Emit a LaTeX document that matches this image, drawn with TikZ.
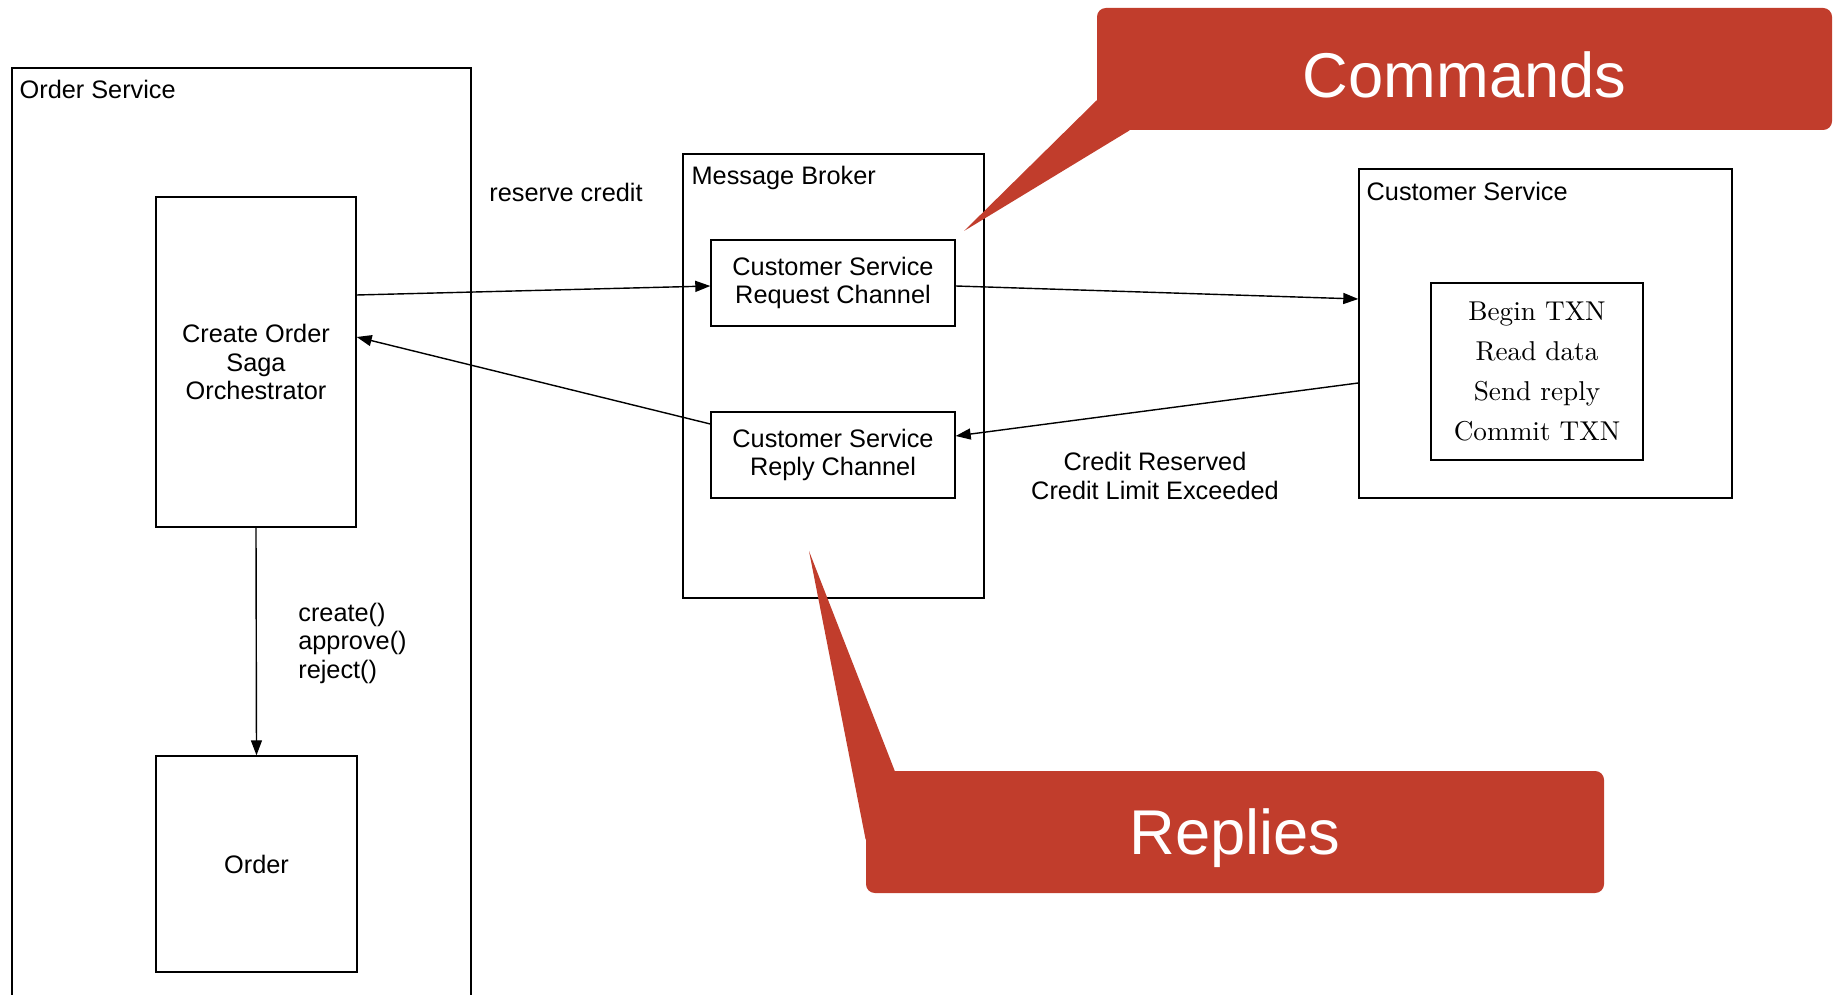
\documentclass[tikz,border=0pt]{standalone}
\usepackage{fontspec}
\setsansfont{Liberation Sans}
\newfontfamily\txnfont{lmroman10-regular.otf}
\usetikzlibrary{arrows.meta,calc}
\definecolor{calloutred}{RGB}{193,61,44}

\begin{document}
\begin{tikzpicture}[x=2cm,y=-2cm,line cap=round]
  \tikzset{
    box/.style={draw,line width=0.8pt,inner sep=0pt,align=center,font=\sffamily\fontsize{14.4}{16.2}\selectfont},
    group/.style={draw,line width=0.8pt,inner sep=0pt},
    title/.style={anchor=west,inner sep=0pt,font=\sffamily\fontsize{14.4}{16.2}\selectfont},
    label/.style={inner sep=0pt,align=center,font=\sffamily\fontsize{14.4}{16.2}\selectfont},
    msg/.style={-{Triangle[length=0.3cm,width=0.22cm]},line width=0.8pt},
    callout/.style={fill=calloutred,rounded corners=5pt,text=white,text height=33pt,font=\sffamily\fontsize{36}{40}\selectfont}
  }

  \useasboundingbox (0,0) rectangle (18.38,9.95);
  \clip (0,0) rectangle (18.38,9.95);

  % Order service with saga and order
  \node[group,minimum width=9.18cm,minimum height=18.84cm] (orderSvc) at (2.415,5.39) {};
  \node[title] (orderSvcTitle) at ($(orderSvc.north west)+(0.08,0.22)$) {Order Service};
  \node[box,minimum width=4cm,minimum height=6.6cm] (saga) at (2.56,3.62) {Create Order\\Saga\\Orchestrator};
  \node[box,minimum width=4.02cm,minimum height=4.32cm] (order) at (2.565,8.64) {Order};

  % Message broker channels
  \node[group,minimum width=6.02cm,minimum height=8.88cm] (broker) at (8.335,3.76) {};
  \node[title] (brokerTitle) at ($(broker.north west)+(0.09,0.25)$) {Message Broker};
  \node[box,minimum width=4.88cm,minimum height=1.72cm] (reqChan) at (8.33,2.83) {Customer Service\\Request Channel};
  \node[box,minimum width=4.88cm,minimum height=1.72cm] (replyChan) at (8.33,4.55) {Customer Service\\Reply Channel};

  % Customer service
  \node[group,minimum width=7.46cm,minimum height=6.58cm] (custSvc) at (15.455,3.335) {};
  \node[title] (custSvcTitle) at ($(custSvc.north west)+(0.08,0.23)$) {Customer Service};
  \node[box,minimum width=4.24cm,minimum height=3.54cm,font=\txnfont\fontsize{15.5}{22.8}\selectfont] (txn) at (15.37,3.715)
    {Begin TXN\\Read data\\Send reply\\Commit TXN};

  % Messages
  \draw[msg] ($(saga.east)+(0,-0.67)$) -- ($(reqChan.west)+(0,0.03)$);
  \draw[msg] ($(reqChan.east)+(0,0.03)$) -- ($(custSvc.west)+(0,-0.345)$);
  \draw[msg] ($(custSvc.west)+(0,0.495)$) -- ($(replyChan.east)+(0,-0.19)$);
  \draw[msg] ($(replyChan.west)+(0,-0.31)$) -- ($(saga.east)+(0,-0.25)$);
  \draw[msg] (saga.south) -- (order.north);

  \node[label] (reserveLbl) at (5.66,1.92) {reserve credit};
  \node[label] (replyLbl) at (11.55,4.76) {Credit Reserved\\Credit Limit Exceeded};
  \node[label,anchor=west,align=left] (sagaOps) at (2.98,6.43) {create()\\approve()\\reject()};

  % Callouts
  \node[callout,text depth=0pt,minimum width=14.7cm,minimum height=2.44cm] (commands) at (14.645,0.69) {Commands};
  \coordinate (cmdTip) at (9.64,2.31);
  \fill[calloutred] (cmdTip) -- ($(commands.south west)+(0,-0.3)$) -- ($(commands.south west)+(0.33,0)$) -- cycle;

  \node[callout,text depth=7.6pt,minimum width=14.76cm,minimum height=2.44cm] (replies) at (12.35,8.32) {Replies};
  \coordinate (replyTip) at (8.09,5.51);
  \fill[calloutred] (replyTip) -- ($(replies.north west)+(0.29,0)$) -- ($(replies.north west)+(0,0.69)$) -- cycle;
\end{tikzpicture}
\end{document}
